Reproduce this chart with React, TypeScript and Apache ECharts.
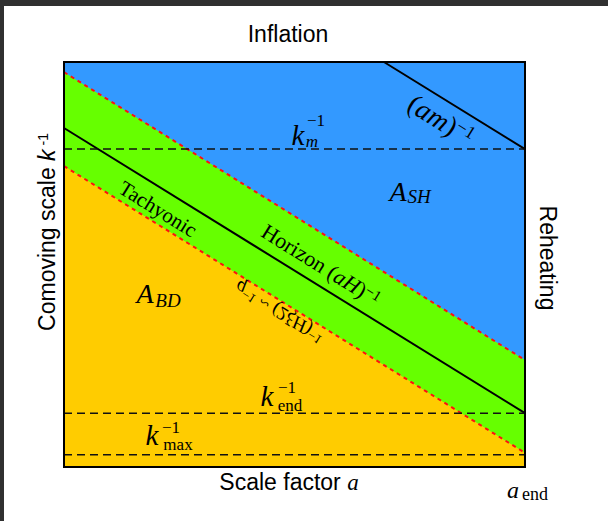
import React, { useEffect, useRef } from 'react';
import * as echarts from 'echarts';

// ---- data (normalised log-scale units) ----
const scaleFactorRange = [0, 10]; // a_start .. a_end
const comovingRange = [0, 10];
const tachyonicUpper = [9.75, 2.64]; // k^-1 at a_start, a_end
const horizonLine = [8.37, 1.33];
const tachyonicLower = [7.43, 0.35];
const massLineX = [6.94, 10];
const massLineY = [10, 7.85];
const kScaleNames = ['k_m', 'k_end', 'k_max'];
const kScaleValues = [7.85, 1.33, 0.3];

const BLUE = '#3399ff';
const GREEN = '#66ff00';
const YELLOW = '#ffcc00';
const SANS = "'Liberation Sans', Arial, sans-serif";
const SERIF = "'Liberation Serif', 'Times New Roman', serif";
const ANG = -Math.atan(0.62);

const seg = (ys: number[]) => [
  [scaleFactorRange[0], ys[0]],
  [scaleFactorRange[1], ys[1]],
];

function piece(text: string, x: number, y: number, size: number, italic = true, family = SERIF) {
  return {
    type: 'text',
    x,
    y,
    z: 120,
    style: {
      text,
      fontFamily: family,
      fontSize: size,
      fontStyle: italic ? 'italic' : 'normal',
      fill: '#000',
      align: 'center',
      verticalAlign: 'middle',
    },
  };
}

function richText(x: number, y: number, text: string, size: number, supSize: number, rotation = 0, scaleY = 1) {
  return {
    type: 'group',
    x,
    y,
    rotation,
    scaleY,
    z: 120,
    children: [
      {
        type: 'text',
        z: 120,
        style: {
          text,
          fontFamily: SERIF,
          fontSize: size,
          fill: '#000',
          align: 'center',
          verticalAlign: 'middle',
          rich: {
            m: { fontFamily: SERIF, fontSize: size, fontStyle: 'italic', fill: '#000' },
            s: { fontFamily: SERIF, fontSize: supSize, fill: '#000', verticalAlign: 'top' },
          },
        },
      },
    ],
  };
}

export default function App() {
  const ref = useRef<HTMLDivElement>(null);
  useEffect(() => {
    if (!ref.current) return;
    const chart = echarts.init(ref.current, null, { renderer: 'svg' });
    const hidden = {
      axisLine: { show: false },
      axisTick: { show: false },
      axisLabel: { show: false },
      splitLine: { show: false },
    };
    const lineBase = { type: 'line', symbol: 'none', silent: true };
    chart.setOption({
      animation: false,
      backgroundColor: '#ffffff',
      grid: {
        left: 64,
        top: 62,
        right: 83,
        bottom: 54,
        show: true,
        backgroundColor: BLUE,
        borderWidth: 0,
      },
      xAxis: { type: 'value', min: scaleFactorRange[0], max: scaleFactorRange[1], ...hidden },
      yAxis: { type: 'value', min: comovingRange[0], max: comovingRange[1], ...hidden },
      series: [
        {
          ...lineBase,
          name: 'tachyonic band',
          data: seg(tachyonicUpper),
          lineStyle: { width: 0 },
          areaStyle: { color: GREEN, opacity: 1 },
          z: 1,
        },
        {
          ...lineBase,
          name: 'A_BD',
          data: seg(tachyonicLower),
          lineStyle: { width: 0 },
          areaStyle: { color: YELLOW, opacity: 1 },
          z: 1,
        },
        {
          ...lineBase,
          name: 'upper',
          data: seg(tachyonicUpper),
          lineStyle: { color: '#ff1010', width: 2, type: [4, 4] },
          z: 3,
        },
        {
          ...lineBase,
          name: 'q^-1',
          data: seg(tachyonicLower),
          lineStyle: { color: '#ff1010', width: 2, type: [4, 4] },
          z: 3,
        },
        {
          ...lineBase,
          name: 'Horizon',
          data: seg(horizonLine),
          lineStyle: { color: '#000', width: 2 },
          z: 4,
        },
        {
          ...lineBase,
          name: '(am)^-1',
          data: massLineX.map((x, i) => [x, massLineY[i]]),
          lineStyle: { color: '#000', width: 2 },
          z: 4,
        },
        ...kScaleValues.map((v, i) => ({
          ...lineBase,
          name: kScaleNames[i],
          data: [
            [scaleFactorRange[0], v],
            [scaleFactorRange[1], v],
          ],
          lineStyle: { color: '#111', width: 1.5, type: [8, 5] },
          z: 4,
        })),
      ],
    });

    const p0 = chart.convertToPixel({ gridIndex: 0 }, [scaleFactorRange[0], comovingRange[1]]) as number[];
    const p1 = chart.convertToPixel({ gridIndex: 0 }, [scaleFactorRange[1], comovingRange[0]]) as number[];

    chart.setOption({
      graphic: [
        { type: 'rect', z: 200, shape: { x: 0, y: 0, width: 608, height: 6 }, style: { fill: '#303030' } },
        { type: 'rect', z: 200, shape: { x: 0, y: 0, width: 4, height: 521 }, style: { fill: '#303030' } },
        {
          type: 'rect',
          z: 110,
          shape: { x: p0[0], y: p0[1], width: p1[0] - p0[0], height: p1[1] - p0[1] },
          style: { fill: 'none', stroke: '#000', lineWidth: 2 },
        },
        piece('Inflation', 288, 34, 23, false, SANS),
        {
          type: 'text',
          x: 47,
          y: 232,
          rotation: Math.PI / 2,
          z: 120,
          style: {
            text: 'Comoving scale {k|k}{s| -1}',
            fontFamily: SANS,
            fontSize: 23,
            fill: '#000',
            align: 'center',
            verticalAlign: 'middle',
            rich: {
              k: { fontFamily: SANS, fontSize: 23, fontStyle: 'italic', fill: '#000' },
              s: { fontFamily: SANS, fontSize: 14, fill: '#000', verticalAlign: 'top' },
            },
          },
        },
        {
          ...piece('Reheating', 548, 258, 23, false, SANS),
          rotation: -Math.PI / 2,
        },
        {
          type: 'text',
          x: 289,
          y: 482,
          z: 120,
          style: {
            text: 'Scale factor {m|a}',
            fontFamily: SANS,
            fontSize: 23,
            fill: '#000',
            align: 'center',
            verticalAlign: 'middle',
            rich: { m: { fontFamily: SERIF, fontSize: 23, fontStyle: 'italic', fill: '#000' } },
          },
        },
        piece('a', 513, 490, 24),
        piece('end', 535, 494, 18, false),
        // k_m^-1
        piece('k', 298, 135, 29),
        piece('\u22121', 316, 120, 17, false),
        piece('m', 312, 141, 17),
        // k_end^-1
        piece('k', 267, 396, 29),
        piece('\u22121', 287, 387, 17, false),
        piece('end', 290, 405, 17, false),
        // k_max^-1
        piece('k', 152, 435, 29),
        piece('\u22121', 171, 427, 17, false),
        piece('max', 178, 444, 17, false),
        // A_SH, A_BD
        piece('A', 398, 191, 28),
        piece('SH', 419, 196, 19),
        piece('A', 145, 293, 28),
        piece('BD', 168, 300, 19),
        // rotated labels
        richText(158, 209, 'Tachyonic', 21, 14, ANG),
        richText(321, 265, 'Horizon ({m|aH}){s|\u22121}', 22, 15, ANG),
        richText(441, 120, '({m|am}){s|\u22121}', 28, 18, ANG),
        richText(279, 312, '{m|q}{s|\u22121} ~ (2{m|\u03beH}){s|\u22121}', 19, 13, ANG, -1),
      ],
    });
    return () => chart.dispose();
  }, []);
  return (
    <div
      ref={ref}
      style={{ position: 'absolute', left: 0, top: 0, width: 608, height: 521 }}
    />
  );
}
